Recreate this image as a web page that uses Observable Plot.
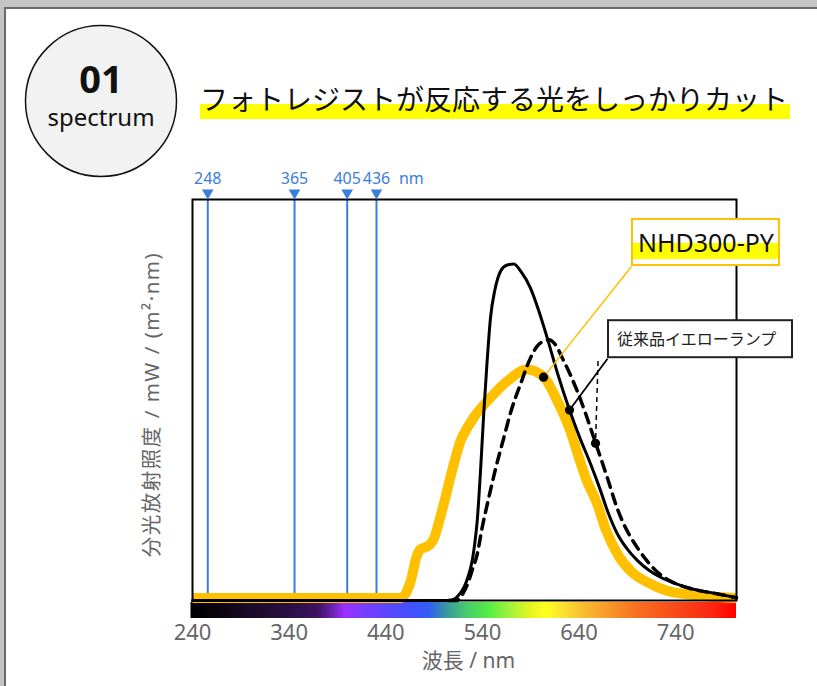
<!DOCTYPE html>
<html><head><meta charset="utf-8">
<script src="https://cdn.jsdelivr.net/npm/d3@7"></script>
<script src="https://cdn.jsdelivr.net/npm/@observablehq/plot@0.6"></script>
<style>
html,body{margin:0;padding:0;background:#c4c4c4;width:817px;height:686px;overflow:hidden;}
#panel{position:absolute;left:4px;top:7px;width:830px;height:700px;background:#fff;border-left:2px solid #6a6a6a;border-top:2px solid #6a6a6a;}
#decor,#chart{position:absolute;left:0;top:0;}
</style></head><body>
<div id="panel"></div>
<svg id="decor" width="817" height="686"></svg>
<div id="chart"></div>
<script>
// ---- data ----
const xTicks = [240, 340, 440, 540, 640, 740];
const lineLabels = ["248", "365", "405", "436"];
const linePos = [255.8, 345.6, 400.1, 430.4]; // where the markers sit on the drawn axis

// NHD300-PY (yellow)
const nhdNm  = [240, 455, 460, 466, 472, 476, 480, 485, 490, 495, 500, 510.4, 517.4, 524.3, 531, 548.4, 565.7, 586.4, 603.6, 617.5, 631, 640, 647, 659, 668, 680, 695, 711, 730, 755, 803];
const nhdVal = [0.6, 0.6, 1.5, 5, 11, 12.8, 13.2, 13.8, 15.5, 19.5, 24, 34, 39.8, 43, 45.6, 50.6, 54.7, 57.6, 55.7, 49.8, 42.3, 35.5, 30.5, 24, 17.5, 11.5, 7, 4.5, 2.5, 1.5, 0.6];

// 従来品イエローランプ (solid)
const convANm  = [240, 505, 512, 516, 521, 525, 529.5, 532, 534.7, 538, 541.5, 545, 548.4, 553, 558.8, 565, 572.5, 580, 589.8, 598, 607.1, 618, 630.2, 641, 651.9, 662.3, 670, 679.5, 690, 700.3, 712, 724.4, 740, 755.4, 780, 803];
const convAVal = [0, 0, 0.5, 1.5, 3.3, 5.8, 10, 14, 20, 32, 47, 60, 70.5, 77.5, 82.1, 83.6, 83.9, 82, 77.9, 72.5, 65.5, 56.5, 47.5, 40.5, 34.1, 27.4, 22, 16.7, 12.8, 10, 7.6, 5.8, 4.2, 3, 1.8, 0.7];

// 従来品イエローランプ (dashed)
const convBNm  = [505, 513, 520, 526, 530, 534.7, 539.8, 546.7, 553.6, 562.2, 570, 579.5, 589.8, 597, 603.6, 609, 613.9, 624.3, 638.2, 647, 655.3, 669.2, 679.5, 686.4, 700.3, 710, 721, 735, 755, 780, 803];
const convBVal = [0, 0, 1.8, 5, 8, 11.6, 18.2, 25.7, 32.8, 40.6, 47.5, 54, 60.5, 63.5, 64.7, 65, 64.3, 59.7, 52.2, 46.5, 40.6, 30.7, 23, 19, 13.2, 10, 7.1, 4.8, 3, 1.8, 0.7];

// callouts
const calloutText = ["NHD300-PY", "従来品イエローランプ"];
const dotNm  = [603.3, 630.2, 657.1];
const dotVal = [55.7, 47.5, 39.2];
const leaderNm  = [694.3, 669.5, 659.7];
const leaderVal = [83.3, 60.3, 59.7];

// colour bar stops
const specNm    = [240, 270, 300, 340, 370, 385, 398, 415, 440, 470, 486, 505, 525, 547, 570, 590, 606, 625, 645, 670, 700, 740, 780, 803];
const specColor = ["#000000", "#0b0412", "#1a0a28", "#2a0e45", "#3c1262", "#6a22b0", "#9b30ff", "#7c3cff", "#5c46ff", "#4052ff", "#3160f2", "#3a9c98", "#48cc6c", "#55ee44", "#a6f23c", "#e4f520", "#ffff22", "#fde032", "#f8bc30", "#f89a2a", "#f8701f", "#f84a18", "#fc2410", "#ff0000"];

const blue = "#3b7ddd";
const font = "'Noto Sans', 'Noto Sans CJK JP', sans-serif";
const yLabel = "分光放射照度 / mW / (m²·nm)";

const toRows = (xs, ys) => xs.map((x, i) => ({x, y: ys[i]}));
const nhd = toRows(nhdNm, nhdVal);
const convA = toRows(convANm, convAVal);
const convB = toRows(convBNm, convBVal);
const dots = toRows(dotNm, dotVal);
const leaders = leaderNm.map((x, i) => ({x1: x, y1: leaderVal[i], x2: dotNm[i], y2: dotVal[i]}));

const triDown = {draw(ctx, size) {
  const s = Math.sqrt(size / (Math.sqrt(3) * 3));
  ctx.moveTo(0, 2 * s); ctx.lineTo(-Math.sqrt(3) * s, -s); ctx.lineTo(Math.sqrt(3) * s, -s); ctx.closePath();
}};

function spectrumBar(index, scales) {
  const g = d3.create("svg:g");
  const xa = scales.x(specNm[0]), xb = scales.x(specNm[specNm.length - 1]);
  const grad = g.append("defs").append("linearGradient").attr("id", "specGrad")
    .attr("gradientUnits", "userSpaceOnUse").attr("x1", xa).attr("x2", xb).attr("y1", 0).attr("y2", 0);
  specNm.forEach((nm, i) => grad.append("stop").attr("offset", (scales.x(nm) - xa) / (xb - xa)).attr("stop-color", specColor[i]));
  const y0 = scales.y(0);
  g.append("rect").attr("x", xa - 1.5).attr("width", xb - xa + 1.5).attr("y", y0 + 2).attr("height", 16).attr("fill", "url(#specGrad)");
  return g.node();
}

function callouts(index, scales) {
  const g = d3.create("svg:g").attr("font-family", font).attr("text-anchor", "start");
  // NHD300-PY box
  let x0 = scales.x(leaderNm[0]), y0 = scales.y(leaderVal[0]);
  g.append("rect").attr("x", x0 + 1).attr("y", y0 - 47).attr("width", 147).attr("height", 46)
    .attr("fill", "#fff").attr("stroke", "#ffc000").attr("stroke-width", 2);
  g.append("rect").attr("x", x0 + 2).attr("y", y0 - 23).attr("width", 145).attr("height", 16).attr("fill", "#ffff00");
  g.append("text").attr("x", x0 + 7).attr("y", y0 - 13.5).attr("font-size", 25).attr("fill", "#111").text(calloutText[0]);
  // conventional box
  x0 = scales.x(leaderNm[1]); y0 = scales.y(leaderVal[1]);
  g.append("rect").attr("x", x0 + 1).attr("y", y0 - 38).attr("width", 184).attr("height", 37)
    .attr("fill", "#fff").attr("stroke", "#222").attr("stroke-width", 2);
  g.append("text").attr("x", x0 + 10).attr("y", y0 - 13.5).attr("font-size", 16)
    .attr("font-family", "'Noto Sans CJK JP', sans-serif").attr("fill", "#222").text(calloutText[1]);
  return g.node();
}

const plot = Plot.plot({
  width: 817, height: 686,
  marginLeft: 192, marginRight: 81, marginTop: 199, marginBottom: 86,
  x: {domain: [240, 803]},
  y: {domain: [0, 100], axis: null},
  style: {background: "transparent", overflow: "visible", fontFamily: font},
  marks: [
    spectrumBar,
    Plot.ruleX(linePos, {stroke: blue, strokeWidth: 2}),
    Plot.line(nhd, {x: "x", y: "y", stroke: "#ffc000", strokeWidth: 10, curve: "monotone-x", strokeLinejoin: "round", strokeLinecap: "butt"}),
    Plot.line(convB, {x: "x", y: "y", stroke: "#000", strokeWidth: 3.5, strokeDasharray: "10,7", curve: "monotone-x"}),
    Plot.line(convA, {x: "x", y: "y", stroke: "#000", strokeWidth: 3, curve: "monotone-x"}),
    Plot.frame({stroke: "#000", strokeWidth: 2}),
    Plot.dot(linePos, {x: d => d, frameAnchor: "top", symbol: triDown, r: 4.3, fill: blue, stroke: "none", dy: -6.7}),
    Plot.text(lineLabels, {x: linePos, text: d => d, frameAnchor: "top", lineAnchor: "middle", textAnchor: "middle", dy: -21, fill: blue, fontSize: 16}),
    Plot.text(["nm"], {x: [linePos[3]], text: d => d, frameAnchor: "top", lineAnchor: "middle", dy: -21, dx: 22.5, textAnchor: "start", fill: blue, fontSize: 16}),
    Plot.axisX({ticks: xTicks, tickSize: 0, tickPadding: 24, fontSize: 22, color: "#666", label: null}),
    Plot.text(["波長 / nm"], {text: d => d, frameAnchor: "bottom", lineAnchor: "middle", textAnchor: "middle", dy: 60.5, dx: 4, fontSize: 21, fill: "#666"}),
    Plot.text([yLabel], {text: d => d, frameAnchor: "left", lineAnchor: "middle", textAnchor: "middle", rotate: -90, dx: -40, dy: 4.5, fontSize: 20.5, fill: "#666"}),
    Plot.link(leaders.slice(0, 1), {x1: "x1", y1: "y1", x2: "x2", y2: "y2", stroke: "#ffc000", strokeWidth: 1.5}),
    Plot.link(leaders.slice(1, 2), {x1: "x1", y1: "y1", x2: "x2", y2: "y2", stroke: "#000", strokeWidth: 1.8}),
    Plot.link(leaders.slice(2, 3), {x1: "x1", y1: "y1", x2: "x2", y2: "y2", stroke: "#000", strokeWidth: 1.5, strokeDasharray: "5,4"}),
    Plot.dot(dots, {x: "x", y: "y", r: 4.6, fill: "#000"}),
    callouts
  ]
});
// widen the y-axis title's letter spacing to match the reference's font metrics
d3.select(plot).selectAll("text").filter(function() { return this.textContent === yLabel; })
  .style("letter-spacing", "1.5px");
document.getElementById("chart").appendChild(plot);

// ---- header decoration ----
const decor = d3.select("#decor");
decor.append("circle").attr("cx", 101).attr("cy", 101).attr("r", 75.5).attr("fill", "#f2f2f2").attr("stroke", "#111").attr("stroke-width", 1.5);
decor.append("text").attr("x", 101).attr("y", 93).attr("text-anchor", "middle").attr("font-family", font).attr("font-weight", 700).attr("font-size", 38).attr("fill", "#111").text("01");
decor.append("text").attr("x", 101).attr("y", 126).attr("text-anchor", "middle").attr("font-family", font).attr("font-size", 24).attr("fill", "#111").text("spectrum");
decor.append("rect").attr("x", 200).attr("y", 104).attr("width", 590).attr("height", 15).attr("fill", "#ffff00");
decor.append("text").attr("x", 200).attr("y", 109.5).attr("font-family", "'Noto Sans CJK JP', sans-serif").attr("font-size", 28).attr("fill", "#111").text("フォトレジストが反応する光をしっかりカット");
</script></body></html>
